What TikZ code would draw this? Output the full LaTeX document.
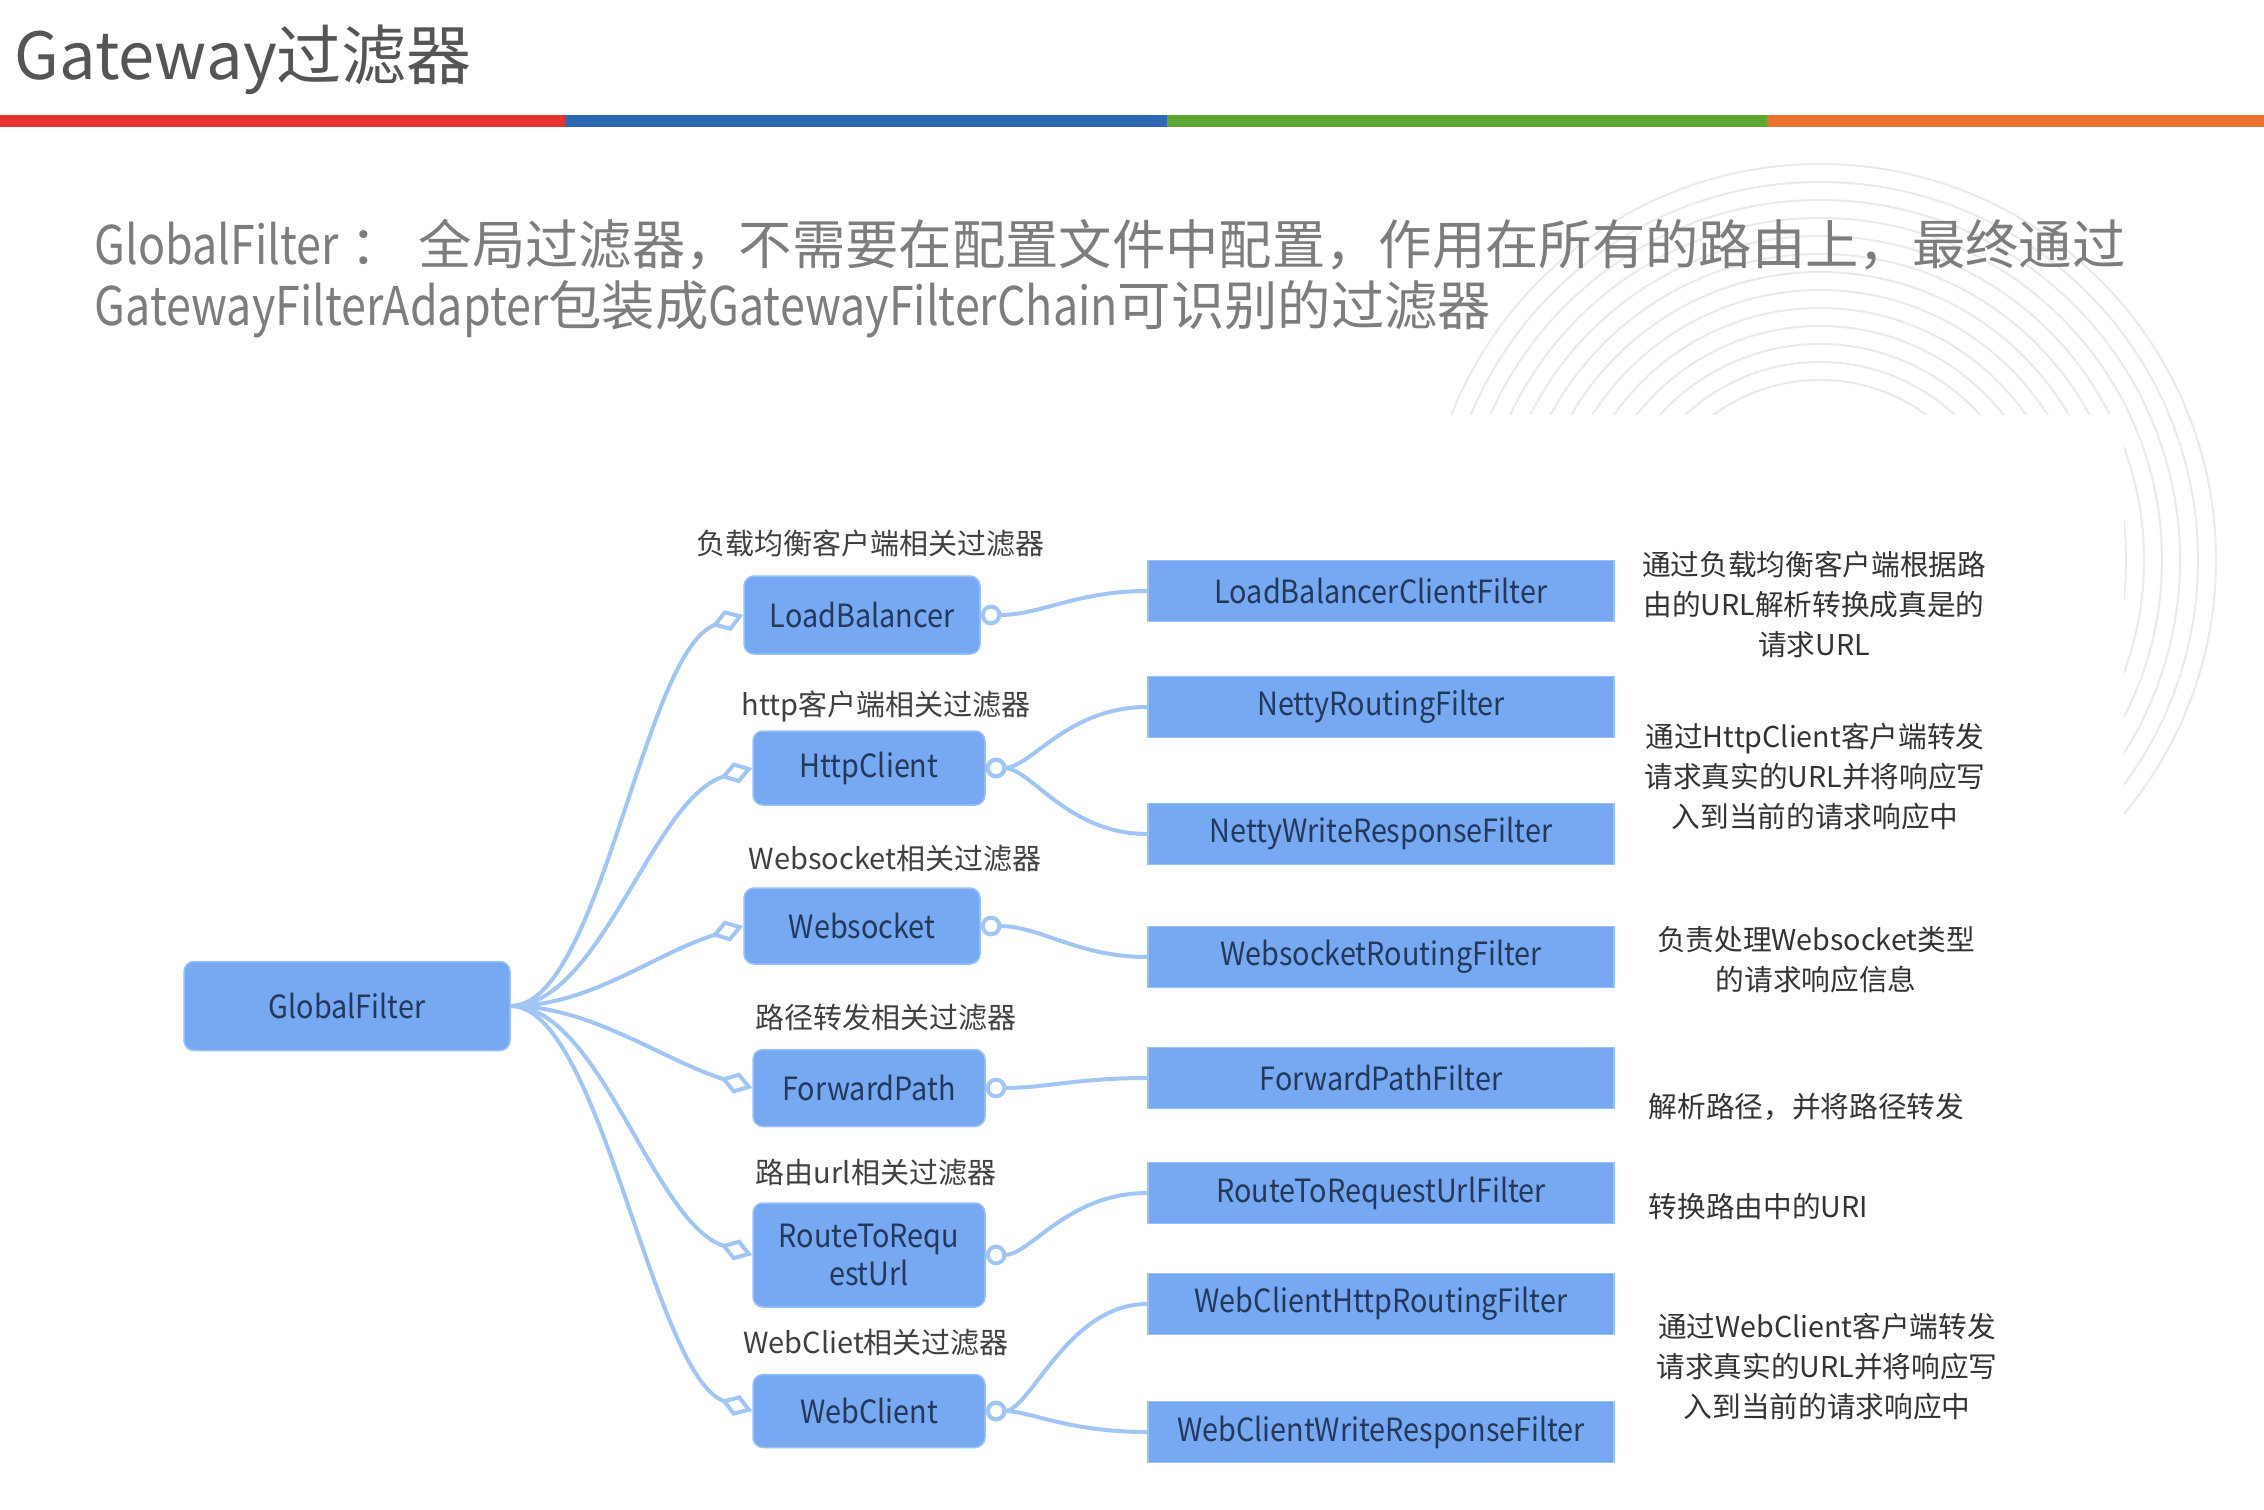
\documentclass[tikz,border=0pt]{standalone}
\usepackage{fontspec}
\setmainfont{Noto Sans CJK SC}
\newfontfamily\boxfont[FakeStretch=0.9]{Noto Sans CJK SC}
\newfontfamily\latcond[FakeStretch=0.84]{Noto Sans CJK SC}
\usetikzlibrary{arrows.meta}
\definecolor{boxfill}{RGB}{118,169,242}
\definecolor{boxedge}{RGB}{152,193,246}
\definecolor{linkc}{RGB}{162,198,244}
\definecolor{boxtext}{RGB}{36,56,92}
\definecolor{lbl}{RGB}{64,64,64}
\definecolor{desc}{RGB}{51,51,51}
\definecolor{subt}{RGB}{125,125,125}
\definecolor{titlec}{RGB}{85,85,85}
\definecolor{barred}{RGB}{229,51,51}
\definecolor{barblue}{RGB}{46,103,180}
\definecolor{bargreen}{RGB}{95,166,52}
\definecolor{barorange}{RGB}{235,115,50}
\definecolor{ringc}{RGB}{234,234,234}
\begin{document}
\begin{tikzpicture}[x=0.3pt,y=-0.3pt,
  midbox/.style={draw=boxedge, line width=0.45pt, fill=boxfill, rounded corners=3pt, inner sep=0pt, text=boxtext, font=\boxfont\fontsize{9.6}{11.4}\selectfont, align=center},
  rbox/.style={draw=boxedge, line width=0.45pt, fill=boxfill, inner sep=0pt, text=boxtext, font=\boxfont\fontsize{9.6}{11.4}\selectfont, minimum width=139.8pt, minimum height=18.3pt},
  grp/.style={text=lbl, font=\fontsize{8.7}{10}\selectfont, inner sep=0pt},
  dsc/.style={text=desc, font=\fontsize{8.6}{12}\selectfont, inner sep=0pt, align=center},
  subtext/.style={anchor=base west, text=subt, font=\fontsize{16}{18}\selectfont, inner sep=0pt},
  llink/.style={draw=linkc, line width=1.2pt, -{Diamond[open, length=10pt, width=6.6pt]}},
  rlink/.style={draw=linkc, line width=1.2pt, {Circle[open, length=6.2pt]}-},
]
\useasboundingbox (0,0) rectangle (2264,1510);
\fill[white] (0,0) rectangle (2264,1510);
% faint background rings
\begin{scope}
\clip (1300,130) -- (2264,130) -- (2264,940) -- (2124,940) -- (2124,415) -- (1300,415) -- cycle;
\foreach \r in {180,198,...,400} \draw[ringc, line width=0.6pt] (1820,560) circle[radius=\r];
\end{scope}
% title and colour bar
\node[anchor=base west, text=titlec, font=\fontsize{19.5}{22}\selectfont, inner sep=0pt] (title) at (14,80) {Gateway过滤器};
\fill[barred] (0,115) rectangle (565,127);
\fill[barblue] (565,115) rectangle (1167,127);
\fill[bargreen] (1167,115) rectangle (1767,127);
\fill[barorange] (1767,115) rectangle (2264,127);
% subtitle
\node[subtext] (sub1) at (94,265) {{\latcond GlobalFilter} ：\hspace{4.5pt}全局过滤器，不需要在配置文件中配置，作用在所有的路由上，最终通过};
\node[subtext] (sub2) at (94,326) {{\latcond GatewayFilterAdapter}包装成{\latcond GatewayFilterChain}可识别的过滤器};
% root
\node[midbox, minimum width=97.8pt, minimum height=26.7pt] (gf) at (347,1006) {GlobalFilter};
% middle boxes
\node[midbox, minimum width=70.8pt, minimum height=23.4pt] (lb) at (862,615) {LoadBalancer};
\node[midbox, minimum width=69.6pt, minimum height=22.2pt] (hc) at (869,768) {HttpClient};
\node[midbox, minimum width=70.8pt, minimum height=22.8pt] (ws) at (862,926) {Websocket};
\node[midbox, minimum width=69.6pt, minimum height=23.1pt] (fp) at (869,1088) {ForwardPath};
\node[midbox, minimum width=69.6pt, minimum height=31.2pt] (rt) at (869,1255) {RouteToRequ\\estUrl};
\node[midbox, minimum width=69.6pt, minimum height=21.9pt] (wc) at (869,1411) {WebClient};
% group labels
\node[grp] (g1) at (870,543) {负载均衡客户端相关过滤器};
\node[grp] (g2) at (886,707) {http客户端相关过滤器};
\node[grp] (g3) at (895,859) {Websocket相关过滤器};
\node[grp] (g4) at (886,1017) {路径转发相关过滤器};
\node[grp] (g5) at (876,1173) {路由url相关过滤器};
\node[grp] (g6) at (876,1343) {WebCliet相关过滤器};
% right boxes
\node[rbox] (r1) at (1381,591) {LoadBalancerClientFilter};
\node[rbox] (r2) at (1381,707) {NettyRoutingFilter};
\node[rbox] (r3) at (1381,834) {NettyWriteResponseFilter};
\node[rbox] (r4) at (1381,957) {WebsocketRoutingFilter};
\node[rbox] (r5) at (1381,1078) {ForwardPathFilter};
\node[rbox] (r6) at (1381,1193) {RouteToRequestUrlFilter};
\node[rbox] (r7) at (1381,1304) {WebClientHttpRoutingFilter};
\node[rbox] (r8) at (1381,1432) {WebClientWriteResponseFilter};
% descriptions
\node[dsc] (d1) at (1814,605) {通过负载均衡客户端根据路\\由的URL解析转换成真是的\\请求URL};
\node[dsc] (d2) at (1815,777) {通过HttpClient客户端转发\\请求真实的URL并将响应写\\入到当前的请求响应中};
\node[dsc] (d3) at (1816,960) {负责处理Websocket类型\\的请求响应信息};
\node[dsc, anchor=west] (d4) at (1648,1107) {解析路径，并将路径转发};
\node[dsc, anchor=west] (d5) at (1648,1207) {转换路由中的URI};
\node[dsc] (d6) at (1827,1367) {通过WebClient客户端转发\\请求真实的URL并将响应写\\入到当前的请求响应中};
% left links
\draw[llink] (gf.east) .. controls +(90,0) and +(-100,35) .. (lb.west);
\draw[llink] (gf.east) .. controls +(90,0) and +(-100,30) .. (hc.west);
\draw[llink] (gf.east) .. controls +(80,0) and +(-90,28) .. (ws.west);
\draw[llink] (gf.east) .. controls +(80,0) and +(-90,-28) .. (fp.west);
\draw[llink] (gf.east) .. controls +(90,0) and +(-100,-32) .. (rt.west);
\draw[llink] (gf.east) .. controls +(90,0) and +(-100,-35) .. (wc.west);
% right links
\draw[rlink] (lb.east) .. controls +(60,0) and +(-70,0) .. (r1.west);
\draw[rlink] (hc.east) .. controls +(45,0) and +(-80,0) .. (r2.west);
\draw[rlink] (hc.east) .. controls +(45,0) and +(-80,0) .. (r3.west);
\draw[rlink] (ws.east) .. controls +(60,0) and +(-70,0) .. (r4.west);
\draw[rlink] (fp.east) .. controls +(60,0) and +(-70,0) .. (r5.west);
\draw[rlink] (rt.east) .. controls +(45,0) and +(-80,0) .. (r6.west);
\draw[rlink] (wc.east) .. controls +(45,0) and +(-80,0) .. (r7.west);
\draw[rlink] (wc.east) .. controls +(45,0) and +(-80,0) .. (r8.west);
\end{tikzpicture}
\end{document}
